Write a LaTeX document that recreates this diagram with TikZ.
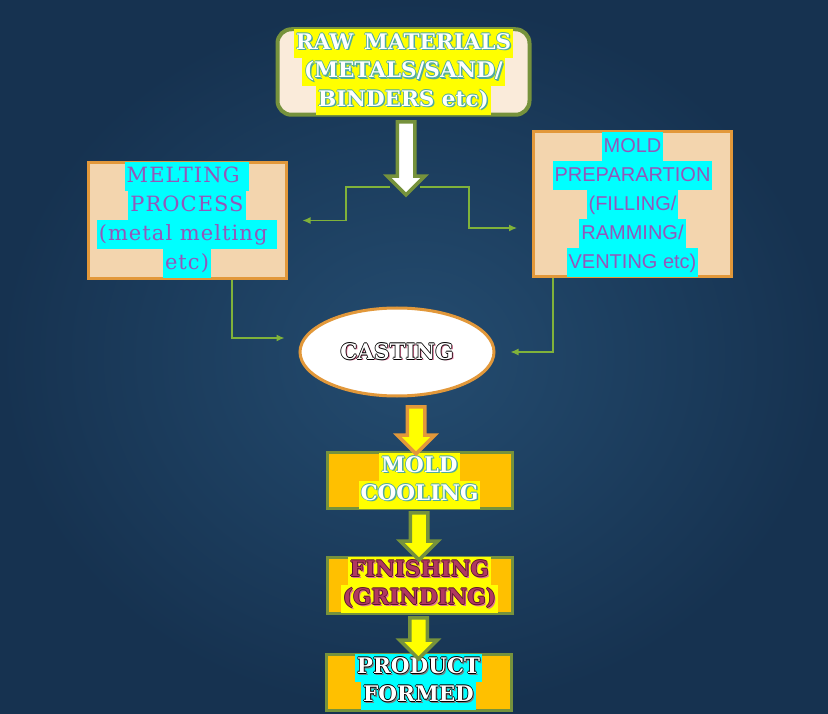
\documentclass[tikz,border=0pt]{standalone}
\usepackage{fontspec}
\usepackage{xcolor}
\usetikzlibrary{shapes.geometric,shapes.arrows,arrows.meta}
\newfontfamily\slabfont{DejaVu Serif}
\newfontfamily\bookfont{DejaVu Serif}[LetterSpace=5]
\newfontfamily\gothfont{Liberation Sans}
\definecolor{bgdark}{RGB}{22,50,80}
\definecolor{bglight}{RGB}{36,76,112}
\definecolor{olivegreen}{RGB}{118,146,60}
\definecolor{boxorange}{RGB}{226,152,58}
\definecolor{wheatfill}{RGB}{243,213,174}
\definecolor{linenfill}{RGB}{250,235,218}
\definecolor{goldfill}{RGB}{255,192,0}
\definecolor{hlyellow}{RGB}{255,255,0}
\definecolor{hlcyan}{RGB}{0,255,255}
\definecolor{txtpurple}{RGB}{148,86,186}
\definecolor{txtteal}{RGB}{78,170,160}
\definecolor{txtmaroon}{RGB}{176,56,96}
\definecolor{darkmaroon}{RGB}{90,20,45}
\definecolor{shadpink}{RGB}{225,110,150}
\definecolor{linkgreen}{RGB}{128,178,58}
% highlighted line and outlined letters
\newcommand{\hilite}[2]{{\setlength{\fboxsep}{0pt}\colorbox{#1}{\hspace{2pt}\strut#2\hspace{2pt}}}}
\newcommand{\outtext}[4]{%
\rlap{\kern1.5pt\raisebox{-1.5pt}{\textcolor{#3}{#4}}}%
\rlap{\kern-0.8pt\textcolor{#2}{#4}}%
\rlap{\kern0.8pt\textcolor{#2}{#4}}%
\rlap{\raisebox{0.8pt}{\textcolor{#2}{#4}}}%
\rlap{\raisebox{-0.8pt}{\textcolor{#2}{#4}}}%
\textcolor{#1}{#4}}

\begin{document}
\begin{tikzpicture}[x=1pt, y=-1pt]
    \tikzstyle{rawbox} = [rectangle, rounded corners=14pt, minimum width=252pt, minimum height=81pt, draw=olivegreen, line width=4pt, fill=linenfill, inner sep=0pt, align=center, font=\slabfont\bfseries\fontsize{21.5}{28.5}\selectfont]
    \tikzstyle{stepbox} = [rectangle, minimum width=198pt, draw=boxorange, line width=3pt, fill=wheatfill, inner sep=0pt, align=center]
    \tikzstyle{flowbox} = [rectangle, minimum width=185pt, minimum height=53pt, draw=olivegreen, line width=3pt, fill=goldfill, inner sep=0pt, align=center, font=\slabfont\bfseries\fontsize{21.5}{28}\selectfont]
    \tikzstyle{bigarrow} = [single arrow, rotate=-90, line width=3.5pt, draw=olivegreen, fill=hlyellow, single arrow head extend=10pt, single arrow tip angle=90, inner xsep=0pt, inner ysep=7pt]
    \tikzstyle{conn} = [draw=linkgreen, line width=1.2pt, -{Latex[length=8pt,width=7pt]}]

    % Background
    \shade [inner color=bglight, outer color=bgdark] (0,0) rectangle (828,714);

    % Raw materials
    \node [rawbox] (raw) at (403.5,72) {\hilite{hlyellow}{\outtext{white}{txtteal}{txtteal}{RAW\enspace MATERIALS}}\\
        \hilite{hlyellow}{\outtext{white}{txtteal}{txtteal}{(METALS/SAND/}}\\
        \hilite{hlyellow}{\outtext{white}{txtteal}{txtteal}{BINDERS etc)}}};

    % Side steps
    \node [stepbox, minimum height=115pt, font=\bookfont\fontsize{21}{29}\selectfont] (melt) at (187,220.5) {\hilite{hlcyan}{\textcolor{txtpurple}{MELTING }}\\
        \hilite{hlcyan}{\textcolor{txtpurple}{PROCESS}}\\
        \hilite{hlcyan}{\textcolor{txtpurple}{(metal melting }}\\
        \hilite{hlcyan}{\textcolor{txtpurple}{etc)}}};
    \node [stepbox, minimum height=135pt, font=\gothfont\fontsize{20}{29}\selectfont] (prep) at (632.5,204.5) {\hilite{hlcyan}{\textcolor{txtpurple}{MOLD}}\\
        \hilite{hlcyan}{\textcolor{txtpurple}{PREPARARTION}}\\
        \hilite{hlcyan}{\textcolor{txtpurple}{(FILLING/}}\\
        \hilite{hlcyan}{\textcolor{txtpurple}{RAMMING/}}\\
        \hilite{hlcyan}{\textcolor{txtpurple}{VENTING etc)}}};

    % Casting
    \node [ellipse, minimum width=194pt, minimum height=88pt, draw=boxorange, line width=3pt, fill=white, font=\slabfont\bfseries\fontsize{21.5}{28}\selectfont] (cast) at (397,352) {\outtext{white}{black}{shadpink}{CASTING}};

    % Main flow
    \node [flowbox] (cool) at (419.5,480.5) {\hilite{hlyellow}{\outtext{white}{txtteal}{txtteal}{MOLD}}\\
        \hilite{hlyellow}{\outtext{white}{txtteal}{txtteal}{COOLING}}};
    \node [flowbox] (fin) at (419.5,585) {\hilite{hlyellow}{\outtext{txtmaroon}{darkmaroon}{shadpink}{FINISHING}}\\
        \hilite{hlyellow}{\outtext{txtmaroon}{darkmaroon}{shadpink}{(GRINDING)}}};
    \node [flowbox] (prod) at (418.5,682) {\hilite{hlcyan}{\outtext{white}{black}{gray}{PRODUCT}}\\
        \hilite{hlcyan}{\outtext{white}{black}{gray}{FORMED}}};

    % Block arrows
    \node [bigarrow, fill=white, minimum height=73pt] (down1) at (406,154) {};
    \node [bigarrow, draw=boxorange, minimum height=47pt] (down2) at (416,426) {};
    \node [bigarrow, minimum height=47pt] (down3) at (419,532) {};
    \node [bigarrow, minimum height=41pt] (down4) at (418.5,634) {};

    % Connections
    \coordinate (split) at (405,187);
    \draw [conn] ([xshift=-15pt]split) -- ++(-44,0) |- ([xshift=15pt]melt.east);
    \draw [conn] ([xshift=15pt]split) -- ++(49,0) |- ([xshift=-15pt,yshift=-23.5pt]prep.west);
    \draw [conn] ([xshift=45pt]melt.south) |- ([xshift=-14pt,yshift=14pt]cast.west);
    \draw [conn] ([xshift=-79.5pt]prep.south) |- ([xshift=15pt]cast.east);
\end{tikzpicture}
\end{document}
